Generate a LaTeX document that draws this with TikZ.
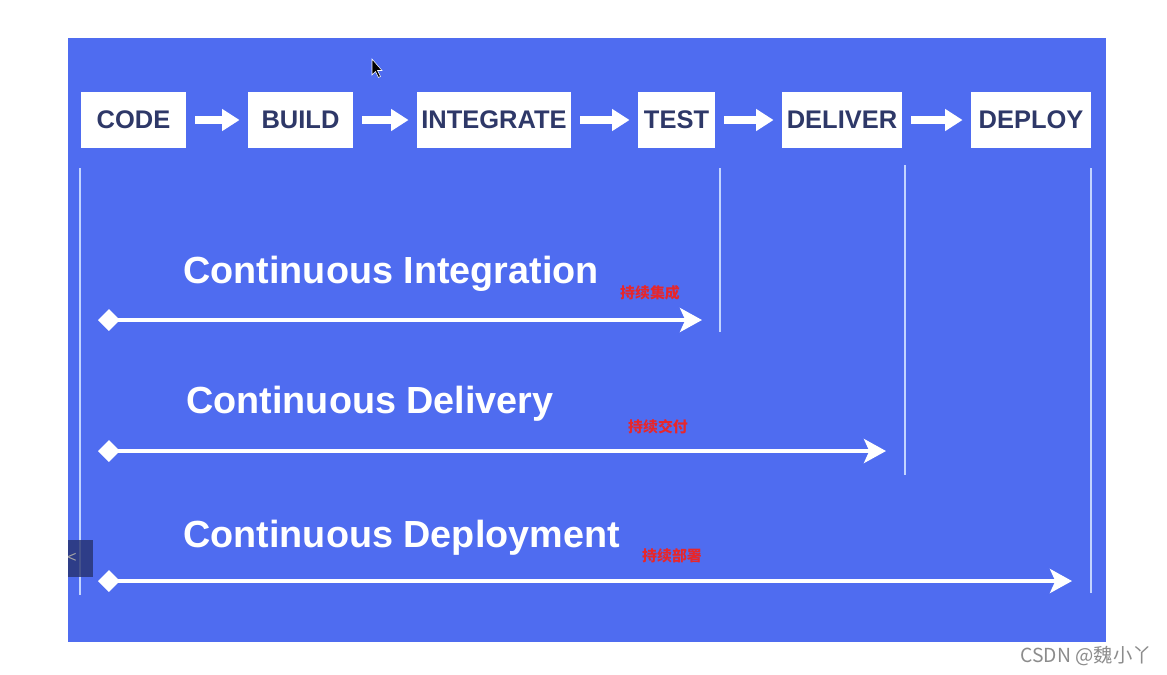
\documentclass[tikz,border=0pt]{standalone}
\usepackage{fontspec}
\setmainfont{Liberation Sans}
\newfontfamily\cjkfont{Noto Sans CJK SC}
\usetikzlibrary{arrows.meta}
\usetikzlibrary{positioning}

\definecolor{slideblue}{RGB}{79,108,240}
\definecolor{boxtext}{RGB}{46,56,104}
\definecolor{guide}{RGB}{195,212,255}
\definecolor{cnred}{RGB}{232,38,42}
\definecolor{tabnavy}{RGB}{38,50,110}

\tikzset{
 stage/.style={fill=white, text=boxtext, font=\fontsize{14.5}{16}\selectfont\bfseries, minimum height=56*0.569pt, inner sep=0pt},
 flow/.style={white, line width=4pt, -{Triangle[length=10pt,width=12pt]}, shorten <=5pt, shorten >=4.6pt},
 span/.style={white, line width=2.8pt, {Diamond[length=12.5pt,width=12.5pt]}-{Stealth[length=12.5pt,width=13.6pt,inset=3pt]}},
 heading/.style={text=white, font=\fontsize{21.5}{24}\selectfont\bfseries, anchor=base west, inner sep=0pt},
 cnlabel/.style={text=cnred, font=\cjkfont\bfseries\fontsize{8.5}{10}\selectfont, inner sep=0pt},
 guideline/.style={guide, line width=1.1pt}
}

\begin{document}
\begin{tikzpicture}[x=0.02cm, y=-0.02cm]
\useasboundingbox (0,0) rectangle (1167,674);
\fill[white] (0,0) rectangle (1167,674);
\fill[slideblue] (68,38) rectangle (1106,642);
\foreach \n/\cx/\w/\t in {code/133.5/105/CODE, build/300.5/105/BUILD, integrate/494/154/INTEGRATE, test/676.5/77/TEST, deliver/842/120/DELIVER, deploy/1031/120/DEPLOY}
 \node[stage, minimum width=\w*0.569pt] (\n) at (\cx,120) {\t};
\foreach \a/\b in {code/build, build/integrate, integrate/test, test/deliver, deliver/deploy}
 \draw[flow] (\a) -- (\b);
\draw[guideline] (80,168) -- (80,595);
\draw[guideline] (720,168) -- (720,332);
\draw[guideline] (905,165) -- (905,475);
\draw[guideline] (1091,168) -- (1091,593);
\node[heading] (ci) at (183,283) {Continuous Integration};
\node[heading] (cd) at (186,413) {Continuous Delivery};
\node[heading] (cdp) at (183,547) {Continuous Deployment};
\node[cnlabel] (ci-cn) at (650,293) {持续集成};
\node[cnlabel] (cd-cn) at (658,427) {持续交付};
\node[cnlabel] (cdp-cn) at (672,556) {持续部署};
\coordinate (ci-a) at (98,320);
\coordinate (ci-b) at (702,320);
\coordinate (cd-a) at (98,451);
\coordinate (cd-b) at (886,451);
\coordinate (cdp-a) at (98,581);
\coordinate (cdp-b) at (1072,581);
\draw[span] (ci-a) -- (ci-b);
\draw[span] (cd-a) -- (cd-b);
\draw[span] (cdp-a) -- (cdp-b);
\fill[tabnavy, opacity=.8] (68,540) rectangle (93,577);
\node[text=gray!70, font=\fontsize{9}{10}\selectfont, inner sep=0pt] (tab) at (72,558) {<};
\filldraw[black, draw=white, line width=.3pt] (372,59) -- (372,75) -- (375.5,71.5) -- (378.5,77.5) -- (380.5,76.5) -- (377.5,70.5) -- (382,70.5) -- cycle;
\node[text=black!45, font=\cjkfont\fontsize{11}{12}\selectfont, anchor=east, inner sep=0pt] (mark) at (1152,656) {CSDN @魏小丫};
\end{tikzpicture}
\end{document}
